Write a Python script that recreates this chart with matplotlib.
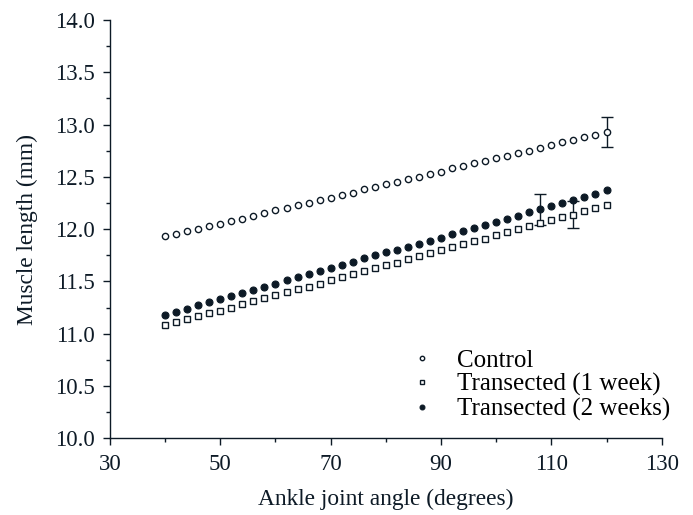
import matplotlib.pyplot as plt
from matplotlib.ticker import MultipleLocator

# ankle angle (degrees), every 2 degrees from 40 to 120
angle = list(range(40, 121, 2))

control = [11.93, 11.95, 11.98, 12.00, 12.03, 12.05, 12.08, 12.10, 12.13, 12.15,
           12.18, 12.20, 12.23, 12.25, 12.28, 12.30, 12.33, 12.35, 12.38, 12.40,
           12.43, 12.45, 12.48, 12.50, 12.53, 12.55, 12.58, 12.60, 12.63, 12.65,
           12.68, 12.70, 12.73, 12.75, 12.78, 12.80, 12.83, 12.85, 12.88, 12.90,
           12.93]
trans_1wk = [11.08, 11.11, 11.14, 11.17, 11.20, 11.22, 11.25, 11.28, 11.31, 11.34,
             11.37, 11.40, 11.43, 11.45, 11.48, 11.51, 11.54, 11.57, 11.60, 11.63,
             11.66, 11.68, 11.71, 11.74, 11.77, 11.80, 11.83, 11.86, 11.89, 11.91,
             11.94, 11.97, 12.00, 12.03, 12.06, 12.09, 12.12, 12.14, 12.17, 12.20,
             12.23]
trans_2wk = [11.18, 11.21, 11.24, 11.27, 11.30, 11.33, 11.36, 11.39, 11.42, 11.45,
             11.48, 11.51, 11.54, 11.57, 11.60, 11.63, 11.66, 11.69, 11.72, 11.75,
             11.78, 11.80, 11.83, 11.86, 11.89, 11.92, 11.95, 11.98, 12.01, 12.04,
             12.07, 12.10, 12.13, 12.16, 12.19, 12.22, 12.25, 12.28, 12.31, 12.34,
             12.37]

# single error bars (angle, error)
err_control = (120, 0.145)
err_1wk = (114, 0.13)
err_2wk = (108, 0.15)

xticks = [30, 50, 70, 90, 110, 130]

ink = '#0d1a26'
plt.rcParams['font.family'] = ['Liberation Serif', 'DejaVu Serif']

fig = plt.figure(figsize=(6.93, 5.15), dpi=100)
ax = fig.add_axes([0.1587, 0.1489, 0.7961, 0.8123])

# error bars go underneath the markers
for (xe, e), ys in [(err_control, control), (err_1wk, trans_1wk), (err_2wk, trans_2wk)]:
    ye = ys[angle.index(xe)]
    ax.errorbar([xe], [ye], yerr=[e], fmt='none', ecolor=ink, elinewidth=1.0,
                capsize=4, capthick=1.0, zorder=2)

ax.plot(angle, control, 'o', ms=4.5, mfc='white', mec=ink, mew=1.0,
        ls='none', label='Control', zorder=3)
ax.plot(angle, trans_1wk, 's', ms=4.2, mfc='white', mec=ink, mew=1.0,
        ls='none', label='Transected (1 week)', zorder=3)
ax.plot(angle, trans_2wk, 'o', ms=5.0, mfc=ink, mec=ink, mew=0.8,
        ls='none', label='Transected (2 weeks)', zorder=4)

ax.set_xlim(30, 130)
ax.set_ylim(10.0, 14.0)
ax.set_xticks(xticks)
ax.xaxis.set_minor_locator(MultipleLocator(10))
ax.yaxis.set_major_locator(MultipleLocator(0.5))
ax.yaxis.set_minor_locator(MultipleLocator(0.25))
ax.yaxis.set_major_formatter(plt.FormatStrFormatter('%.1f'))

for s in ['top', 'right']:
    ax.spines[s].set_visible(False)
for s in ['left', 'bottom']:
    ax.spines[s].set_color(ink)
    ax.spines[s].set_linewidth(1.0)

ax.tick_params(which='both', direction='out', colors=ink, labelcolor=ink,
               labelsize=16.5, width=1.0)
ax.tick_params(which='major', length=5, pad=6)
ax.tick_params(which='minor', length=3)

ax.set_xlabel('Ankle joint angle (degrees)', fontsize=16.8, color=ink, labelpad=10)
ax.set_ylabel('Muscle length (mm)', fontsize=16.8, color=ink, labelpad=12)

ax.legend(loc='lower right', bbox_to_anchor=(1.033, 0.018), frameon=False,
          fontsize=18, markerscale=0.7, handlelength=1.0, handletextpad=0.9,
          labelspacing=0.05, borderaxespad=0.0)

fig.savefig('out.png', dpi=100)
